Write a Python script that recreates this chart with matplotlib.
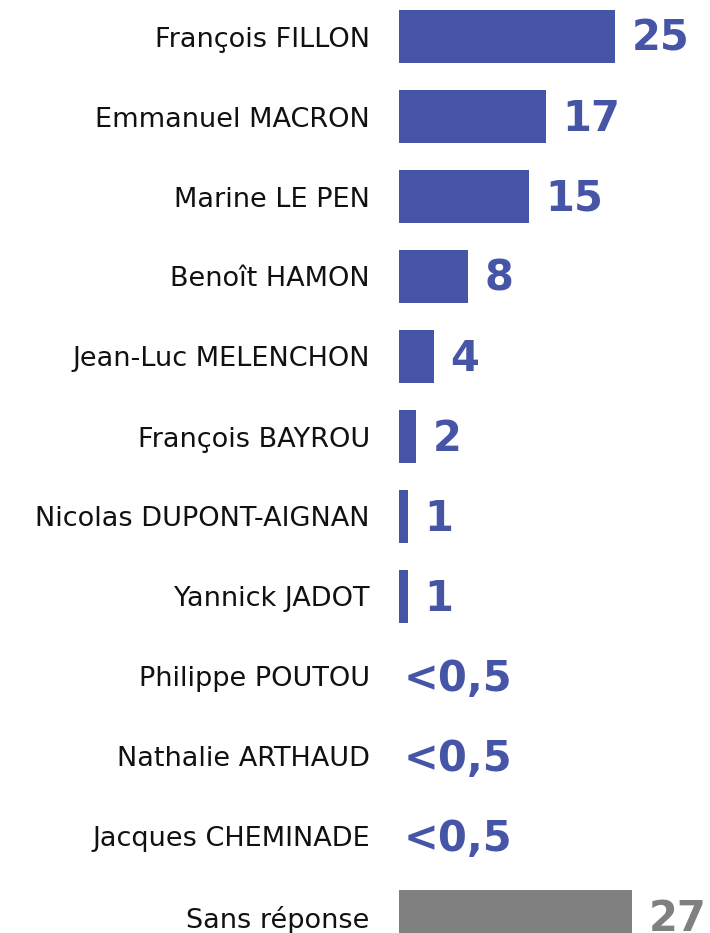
import matplotlib
matplotlib.use("Agg")
import matplotlib.pyplot as plt

candidates = ["François FILLON", "Emmanuel MACRON", "Marine LE PEN", "Benoît HAMON",
              "Jean-Luc MELENCHON", "François BAYROU", "Nicolas DUPONT-AIGNAN",
              "Yannick JADOT", "Philippe POUTOU", "Nathalie ARTHAUD",
              "Jacques CHEMINADE", "Sans réponse"]
values = [25, 17, 15, 8, 4, 2, 1, 1, 0, 0, 0, 27]
value_labels = ["25", "17", "15", "8", "4", "2", "1", "1", "<0,5", "<0,5", "<0,5", "27"]

BLUE = "#4755a6"
GRAY = "#808080"
colors = [BLUE] * 11 + [GRAY]

plt.rcParams['font.family'] = ['DejaVu Sans']

fig = plt.figure(figsize=(7.1, 9.33), dpi=100)
ax = fig.add_axes([399 / 710, 0, 311 / 710, 1])

ypos = list(range(len(candidates)))
ax.barh(ypos, values, height=0.66, color=colors)

ax.set_xlim(0, 311 / 8.64)
ax.set_ylim((933 - 36.5) / 80, -36.5 / 80)

ax.set_yticks(ypos)
ax.set_yticklabels(candidates, fontsize=19.5, color="#111111")
ax.tick_params(axis="y", length=0, pad=21)
ax.set_xticks([])
for s in ax.spines.values():
    s.set_visible(False)

for y, v, lab, c in zip(ypos, values, value_labels, colors):
    off = 12 if v > 0 else 3
    ax.annotate(lab, xy=(v, y), xytext=(off, -1.5), textcoords="offset points",
                ha="left", va="center", fontsize=30, fontweight="bold", color=c,
                annotation_clip=False)

fig.savefig("out.png", dpi=100)
